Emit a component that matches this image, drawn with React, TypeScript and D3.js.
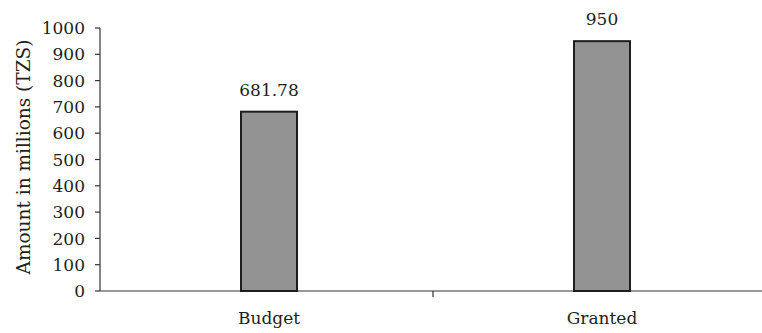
import React from "react";
import * as d3 from "d3";

const categories = ["Budget", "Granted"];
const values = [681.78, 950];
const valueLabels = ["681.78", "950"];
const yTicks = [0, 100, 200, 300, 400, 500, 600, 700, 800, 900, 1000];
const yTitle = "Amount in millions (TZS)";

const W = 762;
const H = 333;
const left = 100;
const right = 766;
const top = 28;
const bottom = 291;
const font = '"DejaVu Serif", serif';

export default function App() {
  const x = d3.scaleBand<string>().domain(categories).range([left, right]);
  const y = d3.scaleLinear().domain([0, 1000]).range([bottom, top]);
  const barW = 56;

  return (
    <svg
      width={W}
      height={H}
      style={{ position: "absolute", left: 0, top: 0, background: "#fff", fontFamily: font }}
    >
      <line x1={left} x2={left} y1={top} y2={bottom} stroke="#333" strokeWidth={1.2} />
      {yTicks.map((t) => (
        <g key={t}>
          <line x1={left - 5} x2={left} y1={y(t)} y2={y(t)} stroke="#333" strokeWidth={1.2} />
          <text x={85} y={y(t)} dy="0.36em" textAnchor="end" fontSize={17} fill="#231f20">
            {t}
          </text>
        </g>
      ))}
      <line x1={left} x2={right} y1={bottom} y2={bottom} stroke="#333" strokeWidth={1.2} />
      {categories.slice(1).map((c) => (
        <line key={c} x1={x(c)!} x2={x(c)!} y1={bottom} y2={bottom + 6} stroke="#333" strokeWidth={1.2} />
      ))}
      {categories.map((c, i) => {
        const cx = x(c)! + x.bandwidth() / 2 + 2.5;
        return (
          <g key={c}>
            <rect
              x={cx - barW / 2}
              y={y(values[i])}
              width={barW}
              height={bottom - y(values[i])}
              fill="#939393"
              stroke="#1e1e1e"
              strokeWidth={2}
            />
            <text x={cx} y={y(values[i]) - 16} textAnchor="middle" fontSize={17} fill="#231f20">
              {valueLabels[i]}
            </text>
            <text x={cx} y={324} textAnchor="middle" fontSize={17} fill="#231f20">
              {c}
            </text>
          </g>
        );
      })}
      <text
        transform={`translate(30, 157) rotate(-90)`}
        textAnchor="middle"
        fontSize={18.5}
        fill="#231f20"
      >
        {yTitle}
      </text>
    </svg>
  );
}
